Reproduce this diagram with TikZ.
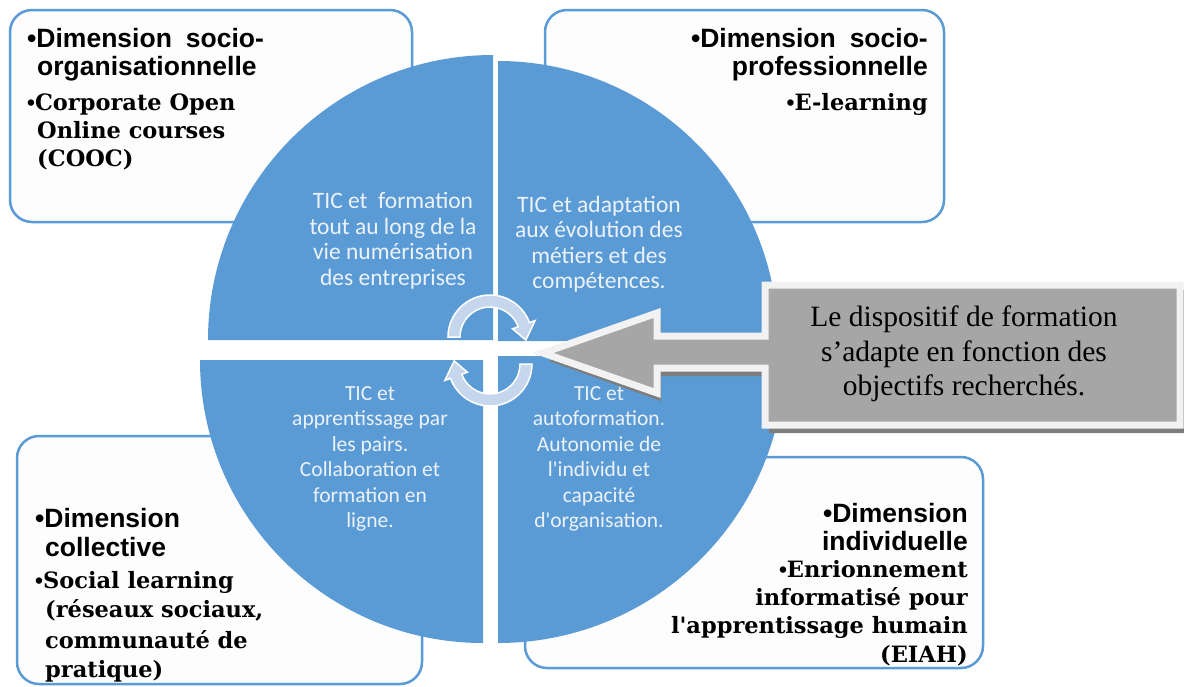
\documentclass[tikz,border=0pt]{standalone}
\usepackage{fontspec}
\setmainfont{Liberation Serif}
\newfontfamily\hsans{Liberation Sans}
\newfontfamily\bserif{DejaVu Serif}
\newfontfamily\qfont{Carlito}
\usetikzlibrary{calc}
\definecolor{qblue}{RGB}{91,155,213}
\definecolor{boxline}{RGB}{91,155,213}
\definecolor{boxfill}{RGB}{253,253,253}
\definecolor{arrowfill}{RGB}{197,214,237}
\definecolor{qtext}{RGB}{236,242,250}
\definecolor{cgray}{RGB}{166,166,166}
\definecolor{cborder}{RGB}{242,242,242}
\definecolor{cshadow}{RGB}{125,125,125}
\tikzset{
  dimbox/.style={draw=boxline, line width=2.5pt, fill=boxfill, rounded corners=22pt},
  quad/.style={fill=qblue},
  cyc/.style={fill=arrowfill, draw=white, line width=1.5pt, line join=miter},
  qtxt/.style={text=qtext, align=center, inner sep=0pt, font=\qfont\fontsize{23.5}{25.5}\selectfont},
  qtxts/.style={text=qtext, align=center, inner sep=0pt, font=\qfont\fontsize{21.5}{25.5}\selectfont},
  hs/.style={inner sep=0pt, font=\hsans\bfseries\fontsize{26.5}{28}\selectfont},
  bs/.style={inner sep=0pt, font=\bserif\bfseries\fontsize{22.5}{29}\selectfont},
  ctxt/.style={align=center, inner sep=0pt, font=\fontsize{29.5}{34.5}\selectfont}
}
\newcommand{\bul}{{\hsans\bfseries •}}
\begin{document}
\begin{tikzpicture}[x=1pt,y=-1pt]
\useasboundingbox (0,0) rectangle (1184,686);
\fill[white] (0,0) rectangle (1184,686);
% boxes
\draw[dimbox] (10,10) rectangle (412,222);
\draw[dimbox] (545,10) rectangle (944,222);
\draw[dimbox] (17,436) rectangle (422,684);
\draw[dimbox] (525,457) rectangle (983,668);
% quadrants
\fill[quad] (493,340) -- (208,340) arc[start angle=180, end angle=270, radius=285] -- cycle;
\fill[quad] (498,341) -- (498,61) arc[start angle=270, end angle=360, radius=280] -- cycle;
\fill[quad] (498,356) -- (785,356) arc[start angle=0, end angle=90, radius=287] -- cycle;
\fill[quad] (483,360) -- (483,643) arc[start angle=90, end angle=180, radius=283] -- cycle;
% cycle arrows
\coordinate (c1) at (490,337);
\coordinate (c2) at (490,364);
\draw[cyc] ($(c1)+(180:42)$) arc[start angle=180, end angle=340, radius=42]
  -- ($(c1)+(340:48)$) -- ($(c1)+(5:36)$) -- ($(c1)+(340:24)$) -- ($(c1)+(340:30)$)
  arc[start angle=340, end angle=180, radius=30] -- cycle;
\draw[cyc] ($(c2)+(0:42)$) arc[start angle=0, end angle=160, radius=42]
  -- ($(c2)+(160:48)$) -- ($(c2)+(185:36)$) -- ($(c2)+(160:24)$) -- ($(c2)+(160:30)$)
  arc[start angle=160, end angle=0, radius=30] -- cycle;
% quadrant texts
\node[qtxt] (q1) at (393,241) {TIC et \ formation\\tout au long de la\\vie numérisation\\des entreprises};
\node[qtxt] (q2) at (599,244) {TIC et adaptation\\aux évolution des\\métiers et des\\compétences.};
\node[qtxts] (q3) at (370,459) {TIC et\\apprentissage par\\les pairs.\\Collaboration et\\formation en\\ligne.};
\node[qtxts] (q4) at (599,459) {TIC et\\autoformation.\\Autonomie de\\l\textquotesingle individu et\\capacité\\d\textquotesingle organisation.};
% callout
\fill[cshadow] (1184,290) -- (1184,433) -- (769,433) -- (769,376) -- (661,376) -- (661,401) -- (549,361) -- (661,321) -- (661,344) -- (769,344) -- (769,290) -- cycle;
\draw[fill=cgray, draw=cborder, line width=7pt, line join=miter] (1180,285) -- (1180,425) -- (765,425) -- (765,368) -- (657,368) -- (657,393) -- (543,353) -- (657,313) -- (657,336) -- (765,336) -- (765,285) -- cycle;
\node[ctxt] (ct) at (964,354) {Le dispositif de formation\\s’adapte en fonction des\\objectifs recherchés.};
% box texts
\node[hs, anchor=base west] (tl1) at (27,47) {\bul Dimension\hspace{14pt}socio-};
\node[hs, anchor=base west] (tl2) at (37,75) {organisationnelle};
\node[bs, anchor=base west] (tl3) at (27,110) {\bul Corporate Open};
\node[bs, anchor=base west] (tl4) at (37,138) {Online courses};
\node[bs, anchor=base west] (tl5) at (37,166) {(COOC)};
\node[hs, anchor=base east] (tr1) at (928,47) {\bul Dimension\hspace{14pt}socio-};
\node[hs, anchor=base east] (tr2) at (928,75) {professionnelle};
\node[bs, anchor=base east] (tr3) at (928,110) {\bul E-learning};
\node[hs, anchor=base west] (bl1) at (35,527) {\bul Dimension};
\node[hs, anchor=base west] (bl2) at (45,556) {collective};
\node[bs, anchor=base west] (bl3) at (35,588) {\bul Social learning};
\node[bs, anchor=base west] (bl4) at (45,617) {(réseaux sociaux,};
\node[bs, anchor=base west] (bl5) at (45,648) {communauté de};
\node[bs, anchor=base west] (bl6) at (45,677) {pratique)};
\node[hs, anchor=base east] (br1) at (968,522) {\bul Dimension};
\node[hs, anchor=base east] (br2) at (968,550) {individuelle};
\node[bs, anchor=base east] (br3) at (968,577) {\bul Enrionnement};
\node[bs, anchor=base east] (br4) at (968,605) {informatisé pour};
\node[bs, anchor=base east] (br5) at (968,633) {l\textquotesingle apprentissage humain};
\node[bs, anchor=base east] (br6) at (968,662) {(EIAH)};
\end{tikzpicture}
\end{document}
